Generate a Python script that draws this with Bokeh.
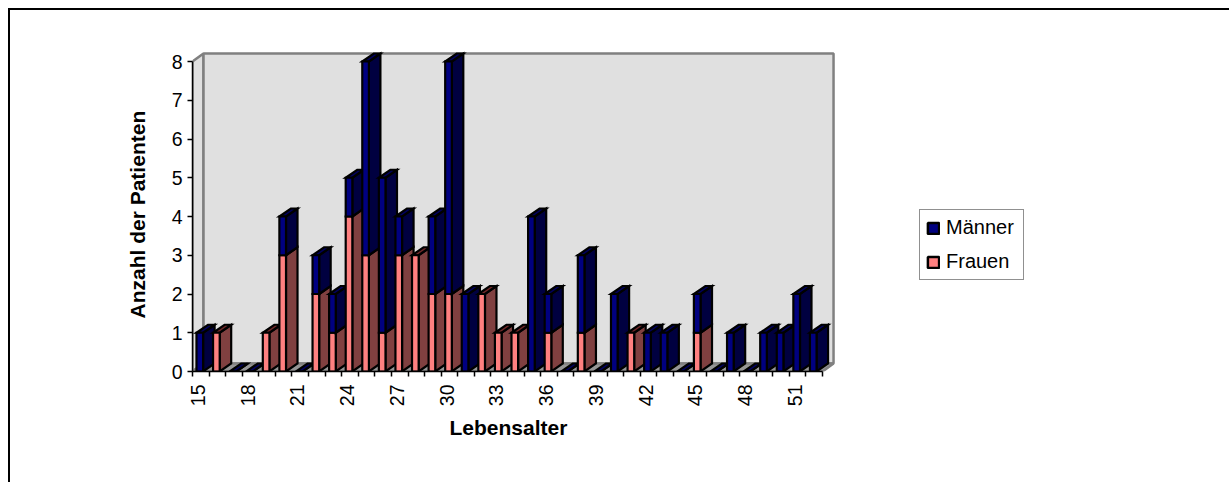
from bokeh.plotting import figure
from bokeh.embed import file_html
from bokeh.resources import INLINE
from bokeh.models import Range1d, FixedTicker, Legend, LegendItem, Title

ages = list(range(15, 53))
maenner = [1,0,0,0,0,1,0,1,1,1,5,4,1,0,2,6,2,0,0,0,4,1,0,2,0,2,0,1,1,0,1,0,1,0,1,1,2,1]
frauen  = [0,1,0,0,1,3,0,2,1,4,3,1,3,3,2,2,0,2,1,1,0,1,0,1,0,0,1,0,0,0,1,0,0,0,0,0,0,0]
tick_ages = list(range(15, 52, 3))
y_ticks = list(range(0, 9))

W, H = 1221, 474
LEFT, RIGHT, TOP, BOTTOM = 182, 191, 30, 113   # frame insets (px)
PX_X = 16.58
PX_Y = 38.75
DX = 11.5 / PX_X      # depth of the 3D projection in data units
DY = 8 / PX_Y
WALL_DX = 11 / PX_X
BAR_L, BAR_R = 0.24, 0.64
x0 = ages[0]
xn = ages[-1] + 1
nan = float("nan")

MEN, MEN_S, MEN_T = "#000080", "#000040", "#000060"
WOM, WOM_S, WOM_T = "#FF8080", "#804040", "#702828"

p = figure(width=W, height=H, output_backend="svg", toolbar_location=None,
           x_range=Range1d(x0, x0 + (W - LEFT - RIGHT) / PX_X),
           y_range=Range1d(0, (H - TOP - BOTTOM) / PX_Y),
           min_border_left=LEFT, min_border_right=RIGHT, min_border_top=TOP, min_border_bottom=BOTTOM,
           background_fill_color=None, border_fill_color="white", outline_line_color=None)
p.styles = {"margin-left": "10px", "margin-top": "10px", "box-shadow": "-2px -2px 0 0 black"}
p.grid.visible = False

# walls and floor
top = y_ticks[-1]
wx, wy, wc = [], [], []
wx.append([x0, x0 + WALL_DX, x0 + WALL_DX, x0]); wy.append([0, DY, top + DY, top]); wc.append("#E0E0E0")
wx.append([x0 + WALL_DX, xn + WALL_DX, xn + WALL_DX, x0 + WALL_DX]); wy.append([DY, DY, top + DY, top + DY]); wc.append("#E0E0E0")
wx.append([x0, xn, xn + WALL_DX, x0 + WALL_DX]); wy.append([0, 0, DY, DY]); wc.append("#969696")
p.patches(wx, wy, fill_color=wc, line_color="#808080", line_width=2.5)

# bars in painter's order
xs, ys, fc = [], [], []
for a, m, f in zip(ages, maenner, frauen):
    l, r = a + BAR_L, a + BAR_R
    def seg(b, c, front, side, topc, draw_top):
        xs.append([r, r + DX, r + DX, r]); ys.append([b, b + DY, c + DY, c]); fc.append(side)
        if draw_top:
            xs.append([l, r, r + DX, l + DX]); ys.append([c, c, c + DY, c + DY]); fc.append(topc)
        xs.append([l, r, r, l]); ys.append([b, b, c, c]); fc.append(front)
    total = m + f
    if total == 0:
        seg(0, 0, MEN, MEN_S, MEN_T, True)
        continue
    if f:
        seg(0, f, WOM, WOM_S, WOM_T, m == 0)
    if m:
        seg(f, total, MEN, MEN_S, MEN_T, True)
p.patches(xs, ys, fill_color=fc, line_color="black", line_width=2.2, line_join="miter")

# axes
ax = p.xaxis[0]
ax.bounds = (x0, xn)
ax.ticker = FixedTicker(ticks=[a + 0.33 for a in tick_ages], minor_ticks=ages + [xn])
ax.major_label_overrides = {a + 0.33: str(a) for a in tick_ages}
ax.major_tick_out = 0; ax.major_tick_in = 0
ax.minor_tick_out = 5; ax.minor_tick_in = 0
ax.minor_tick_line_color = "black"
ax.major_label_orientation = 1.5708
ax.major_label_standoff = 8
ay = p.yaxis[0]
ay.bounds = (0, top)
ay.ticker = FixedTicker(ticks=y_ticks)
ay.major_tick_out = 5; ay.major_tick_in = 0; ay.minor_tick_line_color = None
for a in (ax, ay):
    a.axis_line_color = "black"
    a.axis_line_width = 1.5
    a.major_tick_line_width = 1.5
    a.minor_tick_line_width = 1.5
    a.major_label_text_font = "Liberation Sans"
    a.major_label_text_font_size = "19.5px"
    a.major_label_text_color = "black"

# axis titles
tx = Title(text="Lebensalter", align="left", offset=257, standoff=8,
           text_font="Liberation Sans", text_font_size="21px", text_font_style="bold", text_color="black")
p.add_layout(tx, "below")
ty = Title(text="Anzahl der Patienten", align="left", offset=53, standoff=39,
           text_font="Liberation Sans", text_font_size="21px", text_font_style="bold", text_color="black")
p.add_layout(ty, "left")

# legend
r_m = p.quad(left=[nan], right=[nan], top=[nan], bottom=[nan], fill_color=MEN, line_color="black", line_width=2.5)
r_f = p.quad(left=[nan], right=[nan], top=[nan], bottom=[nan], fill_color=WOM, line_color="black", line_width=2.5)
leg = Legend(items=[LegendItem(label="Männer", renderers=[r_m]), LegendItem(label="Frauen", renderers=[r_f])],
             location=(727, 91), orientation="vertical",
             label_text_font="Liberation Sans", label_text_font_size="20px", label_text_color="black",
             glyph_width=14, glyph_height=14, label_height=20, label_width=71, spacing=11, padding=6, margin=0,
             label_standoff=6, border_line_color="#222222", border_line_width=1.5, background_fill_alpha=1,
             background_fill_color="white")
p.add_layout(leg, "center")

open("out.html", "w").write(file_html(p, INLINE))
